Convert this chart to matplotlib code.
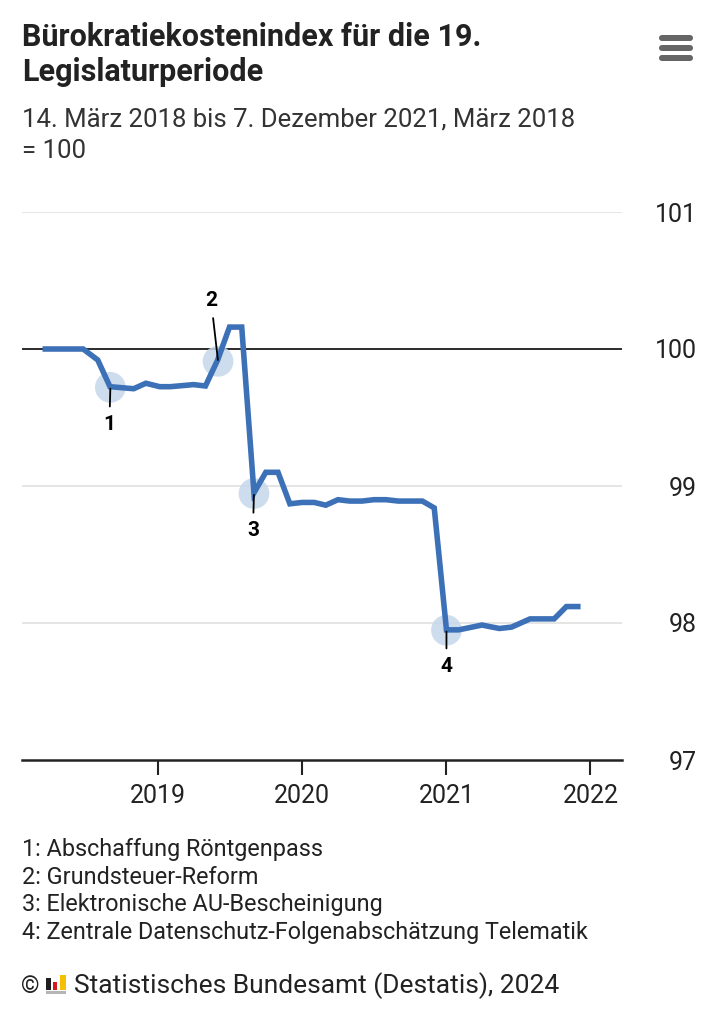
import matplotlib
matplotlib.use("Agg")
import matplotlib.pyplot as plt
import pandas as pd
from matplotlib.patches import FancyBboxPatch

plt.rcParams['font.family'] = ['Roboto', 'DejaVu Sans']

# ---------------- data ----------------
dates = ["2018-03-14", "2018-06-25", "2018-08-01", "2018-09-01", "2018-10-31",
         "2018-12-01", "2019-01-05", "2019-02-01", "2019-04-01", "2019-05-01",
         "2019-06-01", "2019-07-01", "2019-08-01", "2019-09-01", "2019-10-01",
         "2019-11-01", "2019-12-01", "2020-01-01", "2020-02-01", "2020-03-01",
         "2020-04-01", "2020-05-01", "2020-06-01", "2020-07-01", "2020-08-01",
         "2020-09-01", "2020-11-01", "2020-12-01", "2021-01-01", "2021-02-01",
         "2021-04-01", "2021-05-15", "2021-06-15", "2021-08-01", "2021-10-01",
         "2021-11-01", "2021-12-07"]
values = [100.0, 100.0, 99.92, 99.725, 99.71,
          99.75, 99.725, 99.725, 99.74, 99.73,
          99.92, 100.16, 100.16, 98.95, 99.10,
          99.10, 98.87, 98.88, 98.88, 98.86,
          98.90, 98.89, 98.89, 98.90, 98.90,
          98.89, 98.89, 98.84, 97.95, 97.95,
          97.985, 97.96, 97.97, 98.03, 98.03,
          98.12, 98.12]

event_ids = ["1", "2", "3", "4"]
event_dates = ["2018-09-02", "2019-06-02", "2019-09-01", "2021-01-01"]
event_values = [99.72, 99.91, 98.945, 97.947]
event_texts = ["Abschaffung Röntgenpass", "Grundsteuer-Reform",
               "Elektronische AU-Bescheinigung",
               "Zentrale Datenschutz-Folgenabschätzung Telematik"]

y_ticks = [97, 98, 99, 100, 101]
x_ticks = ["2019-01-01", "2020-01-01", "2021-01-01", "2022-01-01"]
x_tick_labels = ["2019", "2020", "2021", "2022"]

title_lines = ["Bürokratiekostenindex für die 19.", "Legislaturperiode"]
subtitle_lines = ["14. März 2018 bis 7. Dezember 2021, März 2018", "= 100"]
source = "Statistisches Bundesamt (Destatis), 2024"

# ---------------- figure ----------------
W, H = 720, 1025
fig = plt.figure(figsize=(W / 100, H / 100), dpi=100)
fig.patch.set_facecolor("white")


def fx(px):
    return px / W


def fy(py):
    return 1 - py / H


ax = fig.add_axes([fx(22), fy(760), fx(600), 548 / H])
ax.set_facecolor("white")

d = pd.to_datetime(dates)
ax.set_xlim(pd.Timestamp("2018-01-21"), pd.Timestamp("2022-03-22"))
ax.set_ylim(97, 101)

# gridlines
for yv in y_ticks:
    if yv == 100:
        ax.axhline(yv, color="#2b2b2b", lw=1.4, zorder=2)
    elif yv != 97:
        ax.axhline(yv, color="#e3e3e3", lw=1.3, zorder=1)

# event circles
ed = pd.to_datetime(event_dates)
ax.scatter(ed, event_values, s=490, color="#c6d7ea", alpha=0.85,
           edgecolors="none", zorder=3)

# line
ax.plot(d, values, color="#3d71b7", lw=4.0, solid_joinstyle="miter",
        solid_capstyle="butt", zorder=4)

# annotation leader lines and labels (label offsets in pixels)
label_offsets = [(-1, -37), (-7, 61), (-1, -37), (0, -36)]
for eid, dt, v, off in zip(event_ids, ed, event_values, label_offsets):
    ax.annotate(eid, xy=(dt, v), xytext=off, textcoords="offset pixels",
                ha="center", va="center", fontsize=15, fontweight="bold",
                color="black", zorder=6,
                arrowprops=dict(arrowstyle="-", color="black", lw=1.3,
                                shrinkA=4, shrinkB=1))

# axes styling
for s in ["top", "left", "right"]:
    ax.spines[s].set_visible(False)
ax.spines["bottom"].set_color("#222222")
ax.spines["bottom"].set_linewidth(1.8)

ax.set_xticks(pd.to_datetime(x_ticks))
ax.set_xticklabels(x_tick_labels)
ax.tick_params(axis="x", length=10.5, width=1.5, color="#222222",
               labelsize=18, labelcolor="#222222", pad=7)

ax.yaxis.tick_right()
ax.set_yticks(y_ticks)
ax.set_yticklabels([str(t) for t in y_ticks], ha="right")
ax.tick_params(axis="y", length=0, labelsize=18, labelcolor="#222222", pad=54)

# ---------------- texts ----------------
for line, yb in zip(title_lines, [46.5, 81]):
    fig.text(fx(22), fy(yb), line, ha="left", va="baseline", fontsize=22,
             fontweight="bold", color="#222222")
for line, yb in zip(subtitle_lines, [126.5, 158]):
    fig.text(fx(22), fy(yb), line, ha="left", va="baseline", fontsize=18.5,
             color="#333333")

foot_y = [856, 883.5, 911, 938.5]
for eid, txt, yy in zip(event_ids, event_texts, foot_y):
    fig.text(fx(22), fy(yy), f"{eid}: {txt}", ha="left", va="baseline",
             fontsize=16.8, color="#222222")

fig.text(fx(21), fy(993), "©", ha="left", va="baseline", fontsize=17,
         color="#222222")
# small logo bars
logo_ax = fig.add_axes([fx(45), fy(995), fx(22), 22 / H])
logo_ax.set_xlim(0, 22)
logo_ax.set_ylim(0, 22)
logo_ax.axis("off")
logo_ax.add_patch(plt.Rectangle((1, 1), 20, 3, color="#b5b5b5", lw=0))
logo_ax.add_patch(plt.Rectangle((1, 5), 5, 12, color="#1e1e1e", lw=0))
logo_ax.add_patch(plt.Rectangle((8, 5), 4, 8, color="#d01c1f", lw=0))
logo_ax.add_patch(plt.Rectangle((15, 5), 6, 15, color="#f5c000", lw=0))
fig.text(fx(74), fy(993), source, ha="left", va="baseline", fontsize=19,
         color="#222222")

# hamburger menu icon
menu_ax = fig.add_axes([fx(655), fy(64), fx(42), 32 / H])
menu_ax.set_xlim(0, 42)
menu_ax.set_ylim(0, 32)
menu_ax.axis("off")
for yb in [3, 13, 23]:
    menu_ax.add_patch(FancyBboxPatch((4, yb), 34, 6,
                                     boxstyle="round,pad=0,rounding_size=3",
                                     color="#666666", lw=0))

fig.savefig("out.png", dpi=100, facecolor="white")
